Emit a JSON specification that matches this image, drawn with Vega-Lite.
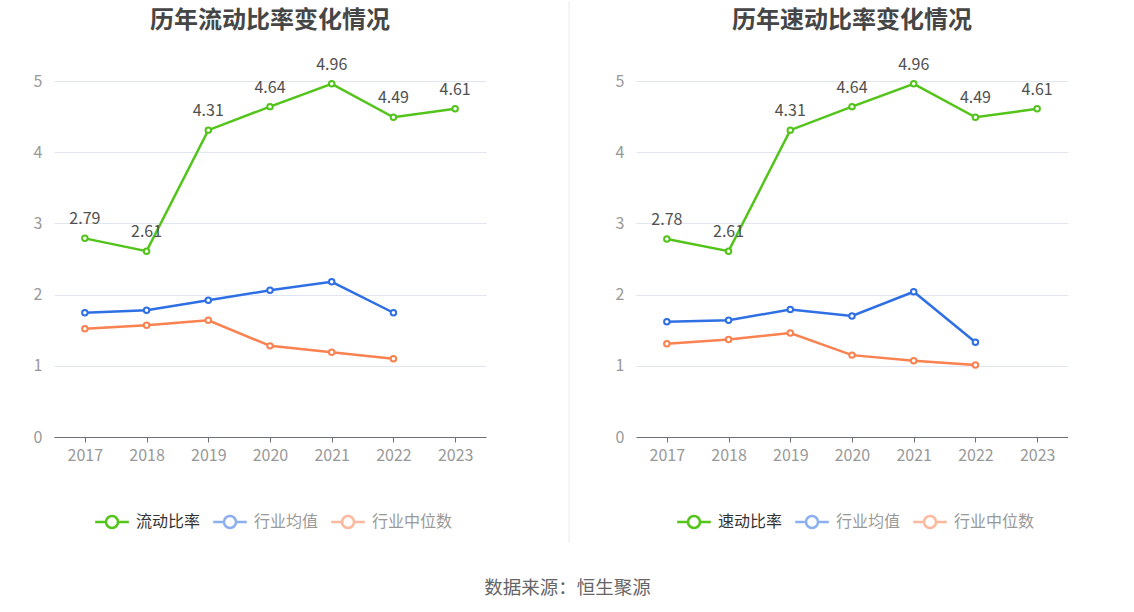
{
  "$schema": "https://vega.github.io/schema/vega-lite/v6.json",
  "autosize": {"type": "pad"},
  "padding": {"left": 33, "top": 0, "right": 0, "bottom": 12},
  "background": "white",
  "bounds": "flush",
  "spacing": 67,
  "config": {
    "font": "Noto Sans CJK SC",
    "view": {"stroke": null},
    "axis": {"labelFont": "Noto Sans CJK SC"}
  },
  "title": {
    "text": "数据来源：恒生聚源",
    "orient": "bottom",
    "anchor": "middle",
    "dx": 17,
    "fontSize": 18.5,
    "fontWeight": "normal",
    "color": "#666666",
    "offset": 35
  },
  "datasets": {
    "current": [
      {"year": "2017", "series": "流动比率", "value": 2.79},
      {"year": "2018", "series": "流动比率", "value": 2.61},
      {"year": "2019", "series": "流动比率", "value": 4.31},
      {"year": "2020", "series": "流动比率", "value": 4.64},
      {"year": "2021", "series": "流动比率", "value": 4.96},
      {"year": "2022", "series": "流动比率", "value": 4.49},
      {"year": "2023", "series": "流动比率", "value": 4.61},
      {"year": "2017", "series": "行业均值", "value": 1.745},
      {"year": "2018", "series": "行业均值", "value": 1.78},
      {"year": "2019", "series": "行业均值", "value": 1.92},
      {"year": "2020", "series": "行业均值", "value": 2.06},
      {"year": "2021", "series": "行业均值", "value": 2.18},
      {"year": "2022", "series": "行业均值", "value": 1.745},
      {"year": "2017", "series": "行业中位数", "value": 1.52},
      {"year": "2018", "series": "行业中位数", "value": 1.57},
      {"year": "2019", "series": "行业中位数", "value": 1.64},
      {"year": "2020", "series": "行业中位数", "value": 1.28},
      {"year": "2021", "series": "行业中位数", "value": 1.19},
      {"year": "2022", "series": "行业中位数", "value": 1.10}
    ],
    "quick": [
      {"year": "2017", "series": "速动比率", "value": 2.78},
      {"year": "2018", "series": "速动比率", "value": 2.61},
      {"year": "2019", "series": "速动比率", "value": 4.31},
      {"year": "2020", "series": "速动比率", "value": 4.64},
      {"year": "2021", "series": "速动比率", "value": 4.96},
      {"year": "2022", "series": "速动比率", "value": 4.49},
      {"year": "2023", "series": "速动比率", "value": 4.61},
      {"year": "2017", "series": "行业均值", "value": 1.62},
      {"year": "2018", "series": "行业均值", "value": 1.64},
      {"year": "2019", "series": "行业均值", "value": 1.79},
      {"year": "2020", "series": "行业均值", "value": 1.70},
      {"year": "2021", "series": "行业均值", "value": 2.04},
      {"year": "2022", "series": "行业均值", "value": 1.33},
      {"year": "2017", "series": "行业中位数", "value": 1.31},
      {"year": "2018", "series": "行业中位数", "value": 1.37},
      {"year": "2019", "series": "行业中位数", "value": 1.46},
      {"year": "2020", "series": "行业中位数", "value": 1.15},
      {"year": "2021", "series": "行业中位数", "value": 1.07},
      {"year": "2022", "series": "行业中位数", "value": 1.01}
    ],
    "separator": [
      {"x": 1, "top": 6.124, "bottom": -1.489}
    ]
  },
  "resolve": {
    "scale": {"color": "independent", "x": "independent", "y": "independent"},
    "legend": {"color": "independent"},
    "axis": {"x": "independent", "y": "independent"}
  },
  "hconcat": [
    {
      "width": 432,
      "height": 356,
      "title": {
        "text": "历年流动比率变化情况",
        "fontSize": 24,
        "fontWeight": "bold",
        "color": "#464646",
        "anchor": "middle",
        "offset": 24
      },
      "data": {"name": "current"},
      "encoding": {
        "x": {
          "field": "year",
          "type": "ordinal",
          "scale": {"type": "point", "padding": 0.5},
          "axis": {
            "title": null,
            "labelAngle": 0,
            "labelFontSize": 16,
            "labelColor": "#999999",
            "labelPadding": 5,
            "domainColor": "#6E7079",
            "tickColor": "#6E7079",
            "tickSize": 5,
            "grid": false
          }
        },
        "y": {
          "field": "value",
          "type": "quantitative",
          "scale": {"domain": [0, 5], "nice": false},
          "axis": {
            "title": null,
            "values": [0, 1, 2, 3, 4, 5],
            "labelFontSize": 16,
            "labelColor": "#999999",
            "labelPadding": 12,
            "domain": false,
            "ticks": false,
            "grid": true,
            "gridColor": "#E0E6F1"
          }
        }
      },
      "layer": [
        {
          "mark": {
            "type": "line",
            "strokeWidth": 2.5,
            "point": {"filled": false, "fill": "white", "size": 30, "strokeWidth": 2}
          },
          "encoding": {
            "color": {
              "field": "series",
              "type": "nominal",
              "scale": {
                "domain": ["流动比率", "行业均值", "行业中位数"],
                "range": ["#52C41A", "#2F6FE4", "#FA8150"]
              },
              "legend": {
                "title": null,
                "orient": "none",
                "direction": "horizontal",
                "legendX": 50,
                "legendY": 433,
                "padding": 0,
                "symbolType": "M-2.8,0L-1,0M1,0L2.8,0M1,0A1,1 0 1,1 -1,0A1,1 0 1,1 1,0",
                "symbolSize": 144,
                "symbolStrokeWidth": 2.5,
                "symbolFillColor": "white",
                "labelFontSize": 16,
                "labelOffset": 16,
                "columnPadding": 7,
                "labelColor": "#999999",
                "encode": {
                  "labels": {"update": {"fill": {"signal": "datum.value == '流动比率' ? '#333333' : '#999999'"}}},
                  "symbols": {"update": {"opacity": {"signal": "datum.value == '流动比率' ? 1 : 0.55"}}}
                }
              }
            }
          }
        },
        {
          "transform": [{"filter": "datum.series == '流动比率'"}],
          "mark": {"type": "text", "dy": -19, "fontSize": 16, "color": "#505050"},
          "encoding": {
            "text": {"field": "value", "type": "quantitative", "format": ".2f"}
          }
        }
      ]
    },
    {
      "width": 16,
      "height": 356,
      "data": {"name": "separator"},
      "mark": {"type": "rule", "color": "#EBEBEB", "strokeWidth": 1},
      "encoding": {
        "x": {"field": "x", "type": "quantitative", "scale": {"domain": [0, 1]}, "axis": null},
        "y": {"field": "top", "type": "quantitative", "scale": {"domain": [0, 5], "nice": false}, "axis": null},
        "y2": {"field": "bottom"}
      }
    },
    {
      "width": 432,
      "height": 356,
      "title": {
        "text": "历年速动比率变化情况",
        "fontSize": 24,
        "fontWeight": "bold",
        "color": "#464646",
        "anchor": "middle",
        "offset": 24
      },
      "data": {"name": "quick"},
      "encoding": {
        "x": {
          "field": "year",
          "type": "ordinal",
          "scale": {"type": "point", "padding": 0.5},
          "axis": {
            "title": null,
            "labelAngle": 0,
            "labelFontSize": 16,
            "labelColor": "#999999",
            "labelPadding": 5,
            "domainColor": "#6E7079",
            "tickColor": "#6E7079",
            "tickSize": 5,
            "grid": false
          }
        },
        "y": {
          "field": "value",
          "type": "quantitative",
          "scale": {"domain": [0, 5], "nice": false},
          "axis": {
            "title": null,
            "values": [0, 1, 2, 3, 4, 5],
            "labelFontSize": 16,
            "labelColor": "#999999",
            "labelPadding": 12,
            "domain": false,
            "ticks": false,
            "grid": true,
            "gridColor": "#E0E6F1"
          }
        }
      },
      "layer": [
        {
          "mark": {
            "type": "line",
            "strokeWidth": 2.5,
            "point": {"filled": false, "fill": "white", "size": 30, "strokeWidth": 2}
          },
          "encoding": {
            "color": {
              "field": "series",
              "type": "nominal",
              "scale": {
                "domain": ["速动比率", "行业均值", "行业中位数"],
                "range": ["#52C41A", "#2F6FE4", "#FA8150"]
              },
              "legend": {
                "title": null,
                "orient": "none",
                "direction": "horizontal",
                "legendX": 50,
                "legendY": 433,
                "padding": 0,
                "symbolType": "M-2.8,0L-1,0M1,0L2.8,0M1,0A1,1 0 1,1 -1,0A1,1 0 1,1 1,0",
                "symbolSize": 144,
                "symbolStrokeWidth": 2.5,
                "symbolFillColor": "white",
                "labelFontSize": 16,
                "labelOffset": 16,
                "columnPadding": 7,
                "labelColor": "#999999",
                "encode": {
                  "labels": {"update": {"fill": {"signal": "datum.value == '速动比率' ? '#333333' : '#999999'"}}},
                  "symbols": {"update": {"opacity": {"signal": "datum.value == '速动比率' ? 1 : 0.55"}}}
                }
              }
            }
          }
        },
        {
          "transform": [{"filter": "datum.series == '速动比率'"}],
          "mark": {"type": "text", "dy": -19, "fontSize": 16, "color": "#505050"},
          "encoding": {
            "text": {"field": "value", "type": "quantitative", "format": ".2f"}
          }
        }
      ]
    }
  ]
}
